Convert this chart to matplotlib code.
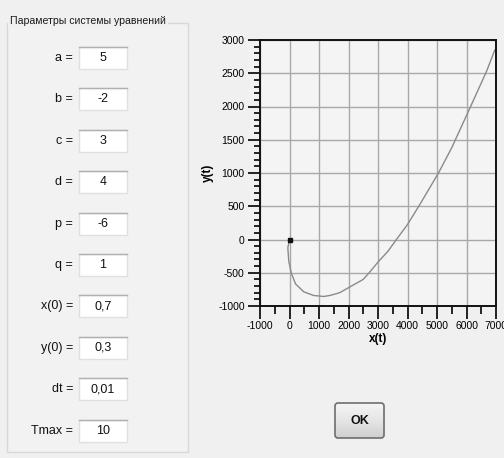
import numpy as np
import matplotlib
matplotlib.use('Agg')
import matplotlib.pyplot as plt
from matplotlib.patches import Rectangle, FancyBboxPatch
from matplotlib.ticker import MultipleLocator

plt.rcParams['font.family'] = ['Liberation Sans', 'DejaVu Sans']
plt.rcParams['axes.unicode_minus'] = False

# Parameters of the equation system (left panel)
param_names = ['a =', 'b =', 'c =', 'd =', 'p =', 'q =', 'x(0) =', 'y(0) =', 'dt =', 'Tmax =']
param_values = ['5', '-2', '3', '4', '-6', '1', '0,7', '0,3', '0,01', '10']
group_title = 'Параметры системы уравнений'

# Trajectory
x_curve = [0, -57, -24, 57, 203, 483, 821, 1159, 1385, 1700, 2000, 2500, 2700,
           3000, 3340, 3625, 4000, 4450, 5050, 5500, 6140, 6680, 6960]
y_curve = [0, -125, -326, -500, -667, -787, -842, -857, -840, -800, -725, -600, -500,
           -340, -175, 0, 225, 550, 1000, 1380, 2000, 2530, 2850]
x_start = [0]
y_start = [0]

x_range = (-1000, 7000)
y_range = (-1000, 3000)

W, H = 504, 458
BG = '#f0f0f0'

fig = plt.figure(figsize=(W / 100, H / 100), dpi=100, facecolor=BG)

# background layer in pixel coordinates
bg = fig.add_axes([0, 0, 1, 1])
bg.set_xlim(0, W)
bg.set_ylim(H, 0)
bg.axis('off')

# group box
bg.add_patch(Rectangle((7, 23), 181, 429, facecolor='#f2f2f2', edgecolor='#d8d8d8', lw=1))
bg.text(10, 21, group_title, ha='left', va='center', fontsize=7.6, color='#1a1a1a',
        bbox=dict(facecolor=BG, edgecolor='none', pad=1.5))

row_y0, row_step = 58, 41.4
for i, (name, val) in enumerate(zip(param_names, param_values)):
    cy = row_y0 + i * row_step
    bg.text(73, cy, name, ha='right', va='center', fontsize=9, color='#111111')
    bg.add_patch(Rectangle((79, cy - 11), 48, 22, facecolor='white', edgecolor='#e0e0e0', lw=1))
    bg.plot([79, 127], [cy - 11, cy - 11], color='#b0b0b0', lw=1)
    bg.text(103, cy, val, ha='center', va='center', fontsize=9, color='#111111')

# OK button with gradient
btn = FancyBboxPatch((335, 403), 49, 35, boxstyle='round,pad=0,rounding_size=3',
                     facecolor='none', edgecolor='#6e6e6e', lw=1.2, zorder=3)
bg.add_patch(btn)
grad = np.linspace(0, 1, 64).reshape(-1, 1)
img = bg.imshow(grad, extent=(335, 384, 438, 403), cmap=matplotlib.colors.LinearSegmentedColormap.from_list(
    'btn', ['#f4f4f4', '#e6e6e6', '#cfcfcf']), aspect='auto', zorder=2)
img.set_clip_path(btn)
bg.text(359.5, 420.5, 'OK', ha='center', va='center', fontsize=9, fontweight='bold', color='#111111', zorder=4)
bg.set_xlim(0, W)
bg.set_ylim(H, 0)

# chart
ax = fig.add_axes([260 / W, 1 - 306 / H, 236 / W, 266 / H], facecolor='#f4f4f4')
ax.plot(x_curve, y_curve, color='#8a8a8a', lw=1)
ax.plot(x_start, y_start, 's', color='#111111', ms=3)
ax.set_xlim(*x_range)
ax.set_ylim(*y_range)
ax.xaxis.set_major_locator(MultipleLocator(1000))
ax.xaxis.set_minor_locator(MultipleLocator(500))
ax.yaxis.set_major_locator(MultipleLocator(500))
ax.yaxis.set_minor_locator(MultipleLocator(100))
ax.grid(True, which='major', color='#a8a8a8', lw=1)
ax.set_axisbelow(True)
ax.tick_params(which='major', direction='out', length=9, width=1.2, labelsize=7.5, pad=2)
ax.tick_params(axis='x', which='minor', direction='out', length=6, width=1.2)
ax.tick_params(axis='y', which='minor', direction='out', length=4.5, width=1.2)
for sp in ax.spines.values():
    sp.set_color('#111111')
    sp.set_linewidth(1.4)
ax.set_xlabel('x(t)', fontsize=8.5, fontweight='bold', labelpad=1)
ax.set_ylabel('y(t)', fontsize=8.5, fontweight='bold', labelpad=3)

fig.savefig('out.png', dpi=100, facecolor=BG)
